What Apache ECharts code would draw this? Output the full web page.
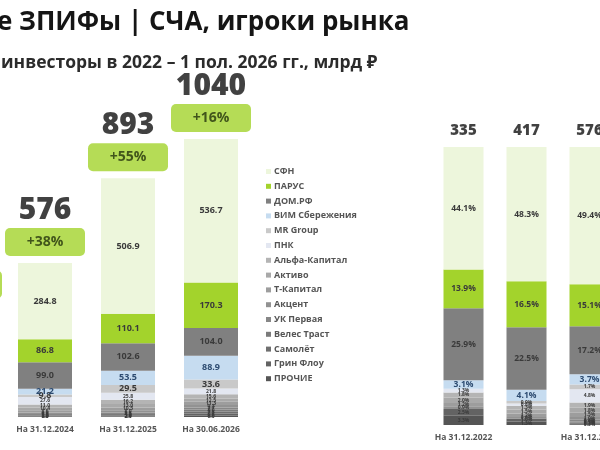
<!DOCTYPE html>
<html>
<head>
<meta charset="utf-8">
<script src="https://cdn.jsdelivr.net/npm/echarts@6/dist/echarts.min.js"></script>
<style>
  html, body { margin: 0; background: #fff; }
  #chart { width: 600px; height: 450px; }
</style>
</head>
<body>
<div id="chart"></div>
<script>
// игроки (сверху вниз в столбике)
const players = ['СФН', 'ПАРУС', 'ДОМ.РФ', 'ВИМ Сбережения', 'MR Group', 'ПНК', 'Альфа-Капитал',
  'Активо', 'Т-Капитал', 'Акцент', 'УК Первая', 'Велес Траст', 'Самолёт', 'Грин Флоу', 'ПРОЧИЕ'];

// левый график, млрд руб
const absCategories = ['На 31.12.2023', 'На 31.12.2024', 'На 31.12.2025', 'На 30.06.2026'];
const absTotals = [417, 576, 893, 1040];
const absGrowth = ['+24%', '+38%', '+55%', '+16%'];
const abs2024 = [284.8, 86.8, 99.0, 21.2, 9.8, 27.6, 11.0, 10.4, 8.6, 6.0, 3.3, 2.5, 1.5, 1.5, 2.0];
const abs2025 = [506.9, 110.1, 102.6, 53.5, 29.5, 25.8, 16.2, 13.0, 10.5, 8.0, 5.5, 4.0, 3.0, 2.4, 2.0];
const abs2026 = [536.7, 170.3, 104.0, 88.9, 33.6, 21.8, 15.6, 12.5, 11.3, 9.3, 7.7, 8.0, 7.5, 6.8, 6.0];

// правый график, доли %
const pctCategories = ['На 31.12.2022', 'На 31.12.2023', 'На 31.12.2024'];
const pctTotals = [335, 417, 576];
const pct2022 = [44.1, 13.9, 25.9, 3.1, 0, 1.3, 1.8, 2.0, 1.2, 0.9, 0, 0, 0, 2.5, 3.3];
const pct2023 = [48.3, 16.5, 22.5, 4.1, 0.9, 0.8, 1.3, 1.5, 1.2, 0.6, 0, 0, 0, 1.0, 1.3];
const pct2024 = [49.4, 15.1, 17.2, 3.7, 1.7, 4.8, 1.9, 1.8, 1.5, 1.0, 0.6, 0.4, 0.3, 0.3, 0.3];

const colors = ['#edf6dc', '#a3d32c', '#808080', '#c6dcf0', '#c9c9c9', '#e3e7f1', '#b4b4b4',
  '#a9a9a9', '#9d9d9d', '#929292', '#878787', '#7b7b7b', '#6f6f6f', '#636363', '#555555'];

const font = '"Open Sans", "Noto Sans", "DejaVu Sans", sans-serif';
const chart = echarts.init(document.getElementById('chart'));

let series = [];

// столбики снизу вверх: ПРОЧИЕ ... СФН
for (let i = players.length - 1; i >= 0; i--) {
  let big = i < 5;
  series.push({
    name: players[i],
    type: 'bar',
    stack: 'abs',
    xAxisIndex: 0,
    yAxisIndex: 0,
    barWidth: 54,
    itemStyle: { color: colors[i] },
    label: {
      show: true,
      position: 'inside',
      fontSize: big ? 9 : 5,
      fontWeight: 'bold',
      color: i === 3 ? '#2d4b70' : '#3a3a3a',
      formatter: p => p.value ? p.value.toFixed(1) : ''
    },
    data: ['-', abs2024[i], abs2025[i], abs2026[i]]
  });
}

for (let i = players.length - 1; i >= 0; i--) {
  let big = i < 4;
  series.push({
    name: players[i],
    type: 'bar',
    stack: 'pct',
    xAxisIndex: 1,
    yAxisIndex: 1,
    barWidth: 40,
    itemStyle: { color: colors[i] },
    label: {
      show: true,
      position: 'inside',
      fontSize: big ? 8.5 : 5,
      fontWeight: 'bold',
      color: i === 3 ? '#2d4b70' : '#3a3a3a',
      formatter: p => p.value ? p.value.toFixed(1) + '%' : ''
    },
    data: [pct2022[i], pct2023[i], pct2024[i]]
  });
}

// итоги + прирост над столбиками
series.push({
  type: 'scatter',
  xAxisIndex: 0,
  yAxisIndex: 0,
  symbolSize: 0,
  silent: true,
  z: 10,
  data: absTotals,
  label: {
    show: true,
    position: 'top',
    distance: 7,
    align: 'center',
    formatter: p => `{t|${p.value}}\n{b|${absGrowth[p.dataIndex]}}`,
    rich: {
      t: { fontSize: 30, fontWeight: 800, color: '#111', lineHeight: 36, fontFamily: font },
      b: {
        fontSize: 14, fontWeight: 'bold', color: '#24330c', fontFamily: font,
        backgroundColor: '#a3d32c', borderRadius: 5, width: 80, height: 28, align: 'center'
      }
    }
  }
});

series.push({
  type: 'scatter',
  xAxisIndex: 1,
  yAxisIndex: 1,
  symbolSize: 0,
  silent: true,
  data: pctTotals.map(() => 100),
  label: {
    show: true,
    position: 'top',
    distance: 9,
    fontSize: 15,
    fontWeight: 800,
    color: '#111',
    formatter: p => pctTotals[p.dataIndex]
  }
});

const catAxis = (idx, data) => ({
  type: 'category',
  gridIndex: idx,
  data,
  axisLine: { show: false },
  axisTick: { show: false },
  axisLabel: { fontSize: 8.5, fontWeight: 'bold', color: '#555', margin: 8 }
});

const valAxis = (idx, max) => ({
  type: 'value',
  gridIndex: idx,
  min: 0,
  max,
  show: false,
  splitLine: { show: false }
});

chart.setOption({
  animation: false,
  textStyle: { fontFamily: font },
  title: [
    { text: 'е ЗПИФы | СЧА, игроки рынка', left: -3, top: 10, padding: 0,
      textStyle: { fontSize: 26, fontWeight: 'bold', color: '#151515', fontFamily: font } },
    { text: 'инвесторы в 2022 – 1 пол. 2026 гг., млрд ₽', left: 1, top: 54, padding: 0,
      textStyle: { fontSize: 17.5, fontWeight: 'bold', color: '#2b2b2b', fontFamily: font } }
  ],
  legend: {
    data: players,
    orient: 'vertical',
    left: 261,
    top: 161,
    icon: 'rect',
    itemWidth: 5,
    itemHeight: 5,
    itemGap: 3.8,
    selectedMode: false,
    textStyle: { fontSize: 9, lineHeight: 11, fontWeight: 'bold', color: '#555', padding: [0, 0, 0, -2] }
  },
  grid: [
    { left: -79.5, width: 332, top: 139, bottom: 33, outerBoundsMode: 'none' },
    { left: 432, width: 189, top: 147, bottom: 25, outerBoundsMode: 'none' }
  ],
  xAxis: [catAxis(0, absCategories), catAxis(1, pctCategories)],
  yAxis: [valAxis(0, 1040), valAxis(1, 100)],
  series
});
</script>
</body>
</html>
